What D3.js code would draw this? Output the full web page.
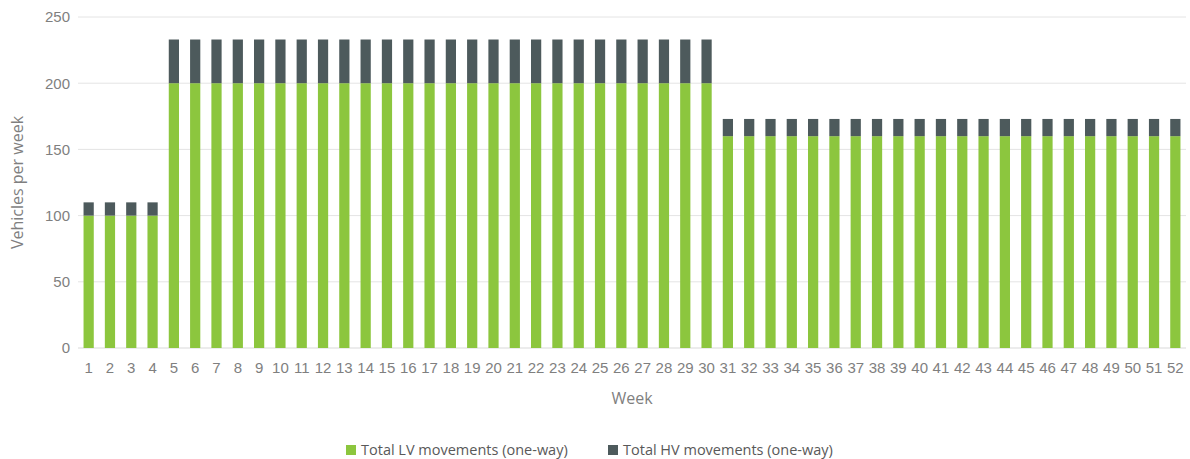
<!DOCTYPE html>
<html>
<head>
<meta charset="utf-8">
<script src="https://cdn.jsdelivr.net/npm/d3@7"></script>
<style>
  body { margin: 0; background: #fff; }
  svg { display: block; font-family: 'Open Sans', 'Liberation Sans', sans-serif; }
  .tick text { fill: #7f7f7f; font-size: 15px; }
  .label { fill: #7f7f7f; font-size: 16px; }
  .legend text { fill: #595959; font-size: 14.5px; }
</style>
</head>
<body>
<svg id="chart" width="1190" height="459"></svg>
<script>
const weeks = d3.range(1, 53).map(String);
const lvValues = [
  100, 100, 100, 100,
  200, 200, 200, 200, 200, 200, 200, 200, 200, 200, 200, 200, 200,
  200, 200, 200, 200, 200, 200, 200, 200, 200, 200, 200, 200, 200,
  160, 160, 160, 160, 160, 160, 160, 160, 160, 160, 160,
  160, 160, 160, 160, 160, 160, 160, 160, 160, 160, 160
];
const hvValues = [
  10, 10, 10, 10,
  33, 33, 33, 33, 33, 33, 33, 33, 33, 33, 33, 33, 33,
  33, 33, 33, 33, 33, 33, 33, 33, 33, 33, 33, 33, 33,
  13, 13, 13, 13, 13, 13, 13, 13, 13, 13, 13,
  13, 13, 13, 13, 13, 13, 13, 13, 13, 13, 13
];
const yTicks = [0, 50, 100, 150, 200, 250];
const seriesNames = ['Total LV movements (one-way)', 'Total HV movements (one-way)'];
const seriesColors = ['#8cc63e', '#4d5a5c'];

const svg = d3.select('#chart');
const plot = { left: 78, right: 1186, top: 17, bottom: 348 };

const x = d3.scaleBand().domain(weeks).range([plot.left, plot.right]).paddingInner(0.52).paddingOuter(0.26);
const y = d3.scaleLinear().domain([0, 250]).range([plot.bottom, plot.top]);

// gridlines
svg.append('g')
  .selectAll('line')
  .data(yTicks)
  .join('line')
  .attr('x1', plot.left)
  .attr('x2', plot.right)
  .attr('y1', (d) => y(d))
  .attr('y2', (d) => y(d))
  .attr('stroke', (d) => (d === 0 ? '#d9d9d9' : '#e4e4e4'))
  .attr('stroke-width', 1);

const rows = weeks.map((w, i) => ({ week: w, lv: lvValues[i], hv: hvValues[i] }));
const stacked = d3.stack().keys(['lv', 'hv'])(rows);

svg.append('g')
  .selectAll('g')
  .data(stacked)
  .join('g')
  .attr('fill', (d, i) => seriesColors[i])
  .selectAll('rect')
  .data((d) => d)
  .join('rect')
  .attr('x', (d) => x(d.data.week))
  .attr('width', x.bandwidth())
  .attr('y', (d) => y(d[1]))
  .attr('height', (d) => y(d[0]) - y(d[1]));

const yAxis = svg.append('g')
  .attr('transform', `translate(${plot.left - 8},0)`)
  .call(d3.axisLeft(y).tickValues(yTicks).tickSize(0).tickPadding(0));
yAxis.select('.domain').remove();

const xAxis = svg.append('g')
  .attr('transform', `translate(0,${plot.bottom})`)
  .call(d3.axisBottom(x).tickSize(0).tickPadding(14));
xAxis.select('.domain').remove();

svg.append('text')
  .attr('class', 'label')
  .attr('text-anchor', 'middle')
  .attr('transform', `translate(23,${(plot.top + plot.bottom) / 2}) rotate(-90)`)
  .text('Vehicles per week');

svg.append('text')
  .attr('class', 'label')
  .attr('text-anchor', 'middle')
  .attr('x', (plot.left + plot.right) / 2)
  .attr('y', 404)
  .text('Week');

const legend = svg.append('g').attr('class', 'legend');
const legendX = [346, 608];
seriesNames.forEach((name, i) => {
  const g = legend.append('g').attr('transform', `translate(${legendX[i]},445)`);
  g.append('rect').attr('width', 10).attr('height', 10).attr('fill', seriesColors[i]);
  g.append('text').attr('x', 15).attr('y', 10).text(name);
});
</script>
</body>
</html>
